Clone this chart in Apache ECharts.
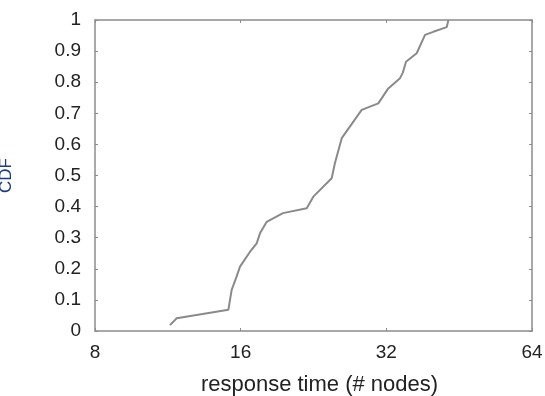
<!DOCTYPE html>
<html>
<head>
<meta charset="utf-8">
<script src="https://cdn.jsdelivr.net/npm/echarts@6/dist/echarts.min.js"></script>
<style>
html,body{margin:0;padding:0;background:#fff;}
#chart{width:545px;height:396px;}
</style>
</head>
<body>
<div id="chart"></div>
<script>
// response time (# nodes)
var responseTime = [11.43, 11.80, 15.09, 15.33, 15.65, 15.95, 16.73, 17.27, 17.54, 18.11, 19.57, 21.91, 22.61, 24.67, 25.06, 25.88, 28.46, 30.80, 32.30, 34.15, 34.60, 35.14, 36.97, 38.47, 40.01, 42.64, 43.0];
// CDF values
var cdf = [0.019, 0.041, 0.068, 0.132, 0.170, 0.207, 0.255, 0.282, 0.314, 0.351, 0.379, 0.395, 0.432, 0.491, 0.540, 0.620, 0.711, 0.732, 0.780, 0.813, 0.830, 0.866, 0.893, 0.952, 0.962, 0.977, 1.0];
var xTicks = [8, 16, 32, 64];
var yTickStep = 0.1;

var pts = responseTime.map(function (x, i) { return [x, cdf[i]]; });
var chart = echarts.init(document.getElementById('chart'));
var axisCol = '#8c8c8c';
var txt = '#222';
var font = 'Liberation Sans, Arial, sans-serif';
chart.setOption({
  animation: false,
  backgroundColor: '#fff',
  grid: {left: 95, right: 13, top: 20, bottom: 65, containLabel: false, outerBoundsMode: 'none'},
  xAxis: [{
    type: 'log', logBase: 2, min: xTicks[0], max: xTicks[xTicks.length - 1],
    name: 'response time (# nodes)', nameLocation: 'middle', nameGap: 43,
    nameTextStyle: {color: txt, fontSize: 22, fontFamily: font, padding: [0, 0, 0, 12]},
    axisLine: {show: true, onZero: false, lineStyle: {color: axisCol, width: 1.5}},
    axisTick: {show: true, inside: true, length: 3, lineStyle: {color: axisCol}},
    axisLabel: {color: txt, fontSize: 19, fontFamily: font, margin: 12,
      formatter: function (v) { return xTicks.indexOf(Math.round(v)) >= 0 ? String(Math.round(v)) : ''; }},
    splitLine: {show: false}, minorTick: {show: false}
  }, {
    type: 'log', logBase: 2, min: xTicks[0], max: xTicks[xTicks.length - 1], position: 'top',
    axisLine: {show: true, onZero: false, lineStyle: {color: axisCol, width: 1.5}},
    axisTick: {show: true, inside: true, length: 3, lineStyle: {color: axisCol}},
    axisLabel: {show: false}, splitLine: {show: false}
  }],
  yAxis: [{
    type: 'value', min: 0, max: 1, interval: yTickStep,
    name: 'CDF', nameLocation: 'middle', nameGap: 80,
    nameTextStyle: {color: '#1a3a8a', fontSize: 17, fontFamily: font},
    axisLine: {show: true, onZero: false, lineStyle: {color: axisCol, width: 1.5}},
    axisTick: {show: true, inside: true, length: 3, lineStyle: {color: axisCol}},
    axisLabel: {color: txt, fontSize: 19, fontFamily: font, margin: 14,
      formatter: function (v) { return String(Math.round(v * 10) / 10); }},
    splitLine: {show: false}
  }, {
    type: 'value', min: 0, max: 1, interval: yTickStep, position: 'right',
    axisLine: {show: true, onZero: false, lineStyle: {color: axisCol, width: 1.5}},
    axisTick: {show: true, inside: true, length: 3, lineStyle: {color: axisCol}},
    axisLabel: {show: false}, splitLine: {show: false}
  }],
  series: [{
    type: 'line', data: pts, showSymbol: false, smooth: false,
    xAxisIndex: 0, yAxisIndex: 0,
    lineStyle: {color: '#8a8a8a', width: 2}
  }]
});
</script>
</body>
</html>
